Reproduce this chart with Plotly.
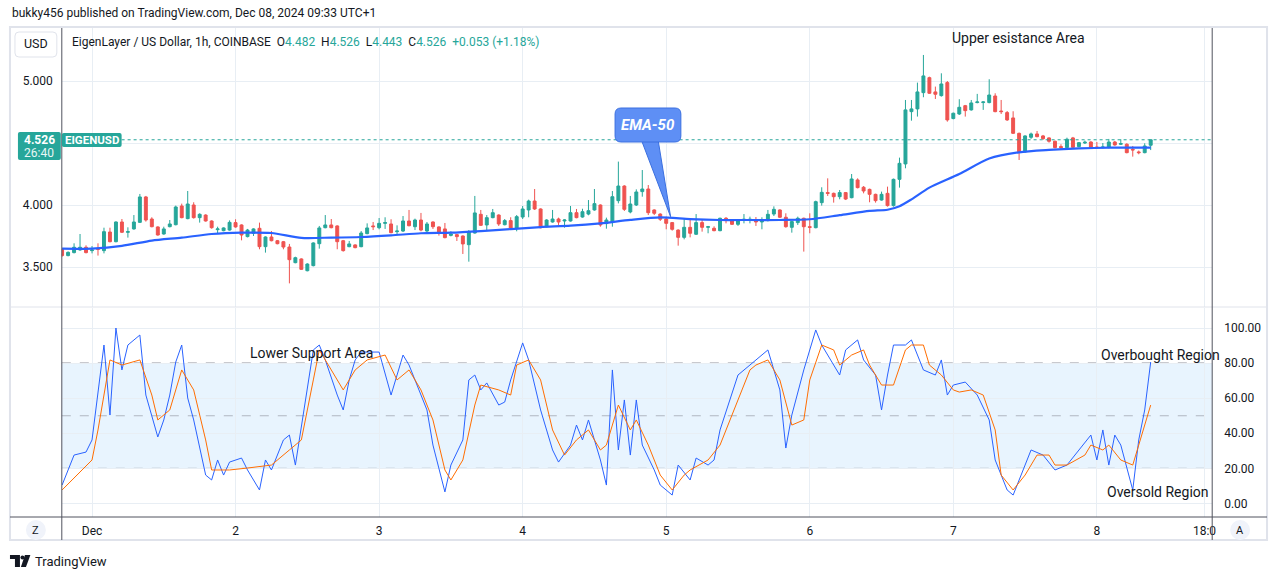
import plotly.graph_objects as go
import pandas as pd

W, H = 1281, 579

# ---------------- data ----------------
bar_start = "2024-11-30 19:00"

opens = [3.643,3.592,3.616,3.637,3.659,3.632,3.648,3.632,3.782,3.704,
3.863,3.780,3.807,3.860,4.065,3.887,3.823,3.766,3.825,3.841,
3.992,3.890,4.000,3.898,3.919,3.871,3.801,3.793,3.798,3.858,
3.839,3.745,3.772,3.812,3.664,3.742,3.712,3.704,3.661,3.535,
3.565,3.470,3.511,3.688,3.817,3.839,3.831,3.712,3.664,3.678,
3.664,3.769,3.831,3.817,3.852,3.847,3.785,3.790,3.871,3.825,
3.879,3.790,3.863,3.823,3.807,3.755,3.761,3.750,3.680,3.774,
3.925,3.839,3.898,3.919,3.841,3.874,3.815,3.903,3.960,4.032,
3.968,3.825,3.863,3.887,3.871,3.871,3.938,3.903,3.927,3.960,
4.000,3.850,3.860,4.035,4.153,3.944,4.000,4.108,4.129,3.960,
3.927,3.887,3.858,3.798,3.739,3.820,3.764,3.858,3.820,3.812,
3.793,3.893,3.879,3.844,3.876,3.876,3.879,3.863,3.874,3.927,
3.960,3.901,3.820,3.858,3.893,3.825,3.817,4.019,4.100,4.094,
4.067,4.100,4.059,4.202,4.143,4.126,4.086,4.040,4.094,3.995,
4.207,4.331,4.753,4.775,4.906,5.027,4.912,4.882,4.987,4.697,
4.734,4.801,4.767,4.826,4.826,4.826,4.879,4.758,4.745,4.702,
4.578,4.428,4.546,4.573,4.557,4.541,4.514,4.471,4.463,4.541,
4.471,4.500,4.508,4.468,4.463,4.463,4.508,4.490,4.490,4.449,
4.428,4.422,4.482]

highs = [3.651,3.626,3.691,3.766,3.675,3.669,3.691,3.817,3.817,3.868,
3.887,3.820,3.919,4.089,4.073,3.901,3.828,3.825,3.879,3.995,
4.011,4.113,4.022,3.933,3.925,3.876,3.825,3.820,3.876,3.885,
3.844,3.807,3.812,3.858,3.747,3.790,3.718,3.710,3.686,3.583,
3.570,3.530,3.699,3.831,3.919,3.887,3.836,3.718,3.710,3.683,
3.790,3.852,3.863,3.895,3.901,3.885,3.836,3.911,3.960,3.890,
3.936,3.863,3.868,3.828,3.855,3.788,3.766,3.755,3.798,4.073,
3.960,3.919,3.968,3.925,3.887,3.901,3.919,3.992,4.043,4.129,
3.973,3.885,3.960,3.898,3.885,3.992,3.968,3.970,4.040,4.129,
4.005,3.898,4.113,4.350,4.159,4.073,4.126,4.282,4.161,3.965,
3.933,3.906,3.863,3.804,3.887,3.893,3.927,3.879,3.831,3.828,
3.898,3.903,3.885,3.882,3.927,3.906,3.903,3.901,3.960,3.989,
3.965,3.933,3.871,3.906,3.898,3.933,4.035,4.143,4.215,4.100,
4.121,4.105,4.250,4.215,4.153,4.132,4.091,4.108,4.148,4.213,
4.382,4.847,4.847,4.987,5.210,5.035,4.955,5.062,5.000,4.745,
4.853,4.807,4.847,4.896,4.836,5.014,4.901,4.847,4.758,4.756,
4.584,4.562,4.584,4.597,4.565,4.546,4.519,4.490,4.543,4.549,
4.508,4.519,4.514,4.508,4.500,4.533,4.516,4.530,4.498,4.476,
4.439,4.498,4.526]

lows = [3.583,3.586,3.610,3.632,3.610,3.610,3.592,3.610,3.699,3.699,
3.774,3.737,3.801,3.855,3.866,3.820,3.753,3.761,3.820,3.836,
3.893,3.885,3.890,3.858,3.866,3.809,3.766,3.788,3.793,3.817,
3.715,3.739,3.750,3.643,3.616,3.707,3.683,3.643,3.368,3.530,
3.476,3.465,3.505,3.648,3.812,3.812,3.643,3.624,3.659,3.651,
3.659,3.764,3.798,3.804,3.807,3.772,3.766,3.782,3.828,3.798,
3.788,3.772,3.807,3.753,3.731,3.747,3.710,3.605,3.543,3.769,
3.831,3.790,3.893,3.831,3.836,3.809,3.788,3.887,3.901,3.960,
3.812,3.820,3.858,3.839,3.817,3.866,3.893,3.898,3.917,3.954,
3.825,3.809,3.825,4.013,3.952,3.933,3.992,4.067,3.919,3.919,
3.871,3.804,3.793,3.672,3.723,3.739,3.758,3.785,3.772,3.788,
3.788,3.852,3.839,3.831,3.852,3.852,3.831,3.804,3.868,3.911,
3.895,3.817,3.777,3.839,3.624,3.772,3.812,3.995,4.073,4.019,
4.046,4.040,4.054,4.134,4.094,4.022,4.019,4.035,3.987,3.987,
4.140,4.296,4.680,4.713,4.869,4.896,4.855,4.874,4.672,4.691,
4.726,4.713,4.761,4.820,4.767,4.820,4.748,4.734,4.678,4.573,
4.363,4.422,4.533,4.546,4.525,4.503,4.457,4.449,4.457,4.460,
4.465,4.492,4.457,4.457,4.457,4.457,4.479,4.484,4.417,4.390,
4.409,4.417,4.443]

closes = [3.592,3.618,3.659,3.659,3.616,3.637,3.643,3.785,3.704,3.863,
3.780,3.785,3.863,4.065,3.879,3.825,3.758,3.807,3.847,3.984,
3.898,4.008,3.898,3.925,3.871,3.817,3.807,3.815,3.860,3.823,
3.758,3.798,3.807,3.664,3.742,3.712,3.688,3.661,3.559,3.575,
3.481,3.524,3.694,3.815,3.839,3.817,3.704,3.632,3.686,3.656,
3.774,3.815,3.825,3.852,3.858,3.777,3.790,3.871,3.833,3.879,
3.798,3.847,3.825,3.772,3.737,3.766,3.745,3.686,3.785,3.936,
3.836,3.898,3.938,3.847,3.874,3.815,3.906,3.968,4.032,3.968,
3.817,3.879,3.887,3.863,3.879,3.938,3.898,3.946,3.954,4.011,
3.839,3.879,4.067,4.153,3.965,4.008,4.105,4.129,3.938,3.933,
3.885,3.852,3.804,3.739,3.820,3.772,3.858,3.820,3.825,3.793,
3.893,3.874,3.844,3.876,3.885,3.885,3.863,3.876,3.925,3.965,
3.901,3.825,3.866,3.893,3.825,3.820,4.027,4.102,4.094,4.067,
4.100,4.048,4.210,4.140,4.113,4.086,4.035,4.086,3.995,4.207,
4.336,4.767,4.775,4.912,5.041,4.901,4.893,4.976,4.686,4.740,
4.788,4.761,4.823,4.831,4.831,4.887,4.753,4.753,4.686,4.578,
4.428,4.557,4.573,4.551,4.535,4.514,4.463,4.463,4.530,4.465,
4.503,4.506,4.463,4.463,4.468,4.508,4.484,4.495,4.422,4.444,
4.422,4.476,4.526]

# EMA-50 read at sampled bars (1-based bar number)
ema_bars = [1,6,11,16,21,26,31,36,41,46,51,56,61,66,71,76,81,86,91,96,
            101,106,111,116,121,126,131,136,139,141,143,146,151,156,161,166,171,176,183]
ema_vals = [3.648,3.648,3.670,3.713,3.737,3.766,3.777,3.774,3.735,3.737,
            3.742,3.755,3.772,3.777,3.790,3.806,3.822,3.833,3.852,3.880,
            3.900,3.886,3.879,3.879,3.879,3.885,3.918,3.952,3.962,3.990,
            4.045,4.140,4.250,4.375,4.425,4.444,4.456,4.462,4.463]

# Stochastic RSI %K and %D (bar number, value)
k_bars = [1,3,5,6,8,9,10,11,12,14,15,17,18,19,20,21,22,23,25,26,27,28,29,31,32,34,35,36,38,39,40,
          43,44,45,47,48,49,50,51,54,56,58,59,61,62,63,65,66,68,69,70,71,72,74,75,76,78,79,81,83,84,
          86,87,88,89,91,92,93,94,95,96,97,98,100,101,103,104,106,107,109,110,111,114,116,117,119,
          121,122,123,125,127,128,130,131,132,134,135,137,138,139,140,142,143,145,147,148,149,150,
          152,154,156,157,159,160,162,163,165,167,169,171,173,174,175,176,177,178,180,181,182,183]
k_vals = [10.5,27.6,29.3,36.2,90.3,50.4,100,76.1,90.3,96,61.8,37.9,47.6,61.8,80.6,90.3,60.1,47.6,16.2,13.4,
          24.8,16.2,23.6,25.9,19.1,7.7,24.8,19.1,36.2,39,21.9,
          87.5,90.3,81.8,61.8,53.3,70.4,81.8,86.3,86.3,61.8,84.6,78.9,61.8,53.3,33.3,6.6,21.9,36.2,70.4,
          73.2,64.7,68.7,56.1,57.8,70.4,91.5,81.8,53.3,30.5,23.6,
          33.3,44.7,36.2,47.6,24.8,10.5,76.1,30.5,59,27.6,59,33.3,19.1,10.5,4.8,21.9,13.4,25.9,21.9,24.8,
          41.9,73.2,78.9,81.8,87.5,
          64.7,31.6,50.4,76.1,98.9,90.3,78.9,73.2,87.5,93.2,81.8,73.2,53.3,73.2,90.3,90.3,93.2,76.1,73.2,
          81.8,61.8,67.5,
          69.2,61.8,47.6,24.8,7.7,4.8,21.9,30.5,27.6,19.1,21.9,30.5,39,24.8,41.9,21.9,39,33.3,7.7,36.2,53.3,80.6]
d_bars = [1,6,7,9,11,14,16,17,19,21,23,25,26,29,32,36,39,41,43,44,46,48,50,52,55,57,59,61,63,65,66,68,
          70,71,74,76,77,79,81,83,85,87,89,91,92,94,96,97,99,101,103,105,106,109,111,114,116,117,119,
          121,123,125,126,128,130,131,133,135,136,138,140,142,143,145,146,148,150,151,153,155,157,158,
          160,162,164,166,167,169,172,173,175,176,178,180,181,183]
d_vals = [7.7,24.8,41.9,81.8,78.9,81.8,61.8,47.6,53.3,76.1,64.7,36.2,19.1,19.1,20.2,21.9,30.5,36.2,70.4,
          87.5,76.1,64.7,76.1,81.8,84.6,70.4,76.1,64.7,47.6,19.1,13.4,24.8,
          56.1,67.5,64.7,61.8,78.9,81.8,70.4,41.9,27.6,36.2,41.9,30.5,33.3,56.1,41.9,47.6,33.3,16.2,7.7,
          16.2,19.1,24.8,33.3,59,76.1,78.9,81.8,
          70.4,44.7,47.6,70.4,90.3,87.5,78.9,84.6,87.5,78.9,67.5,67.5,87.5,90.3,90.3,78.9,73.2,64.7,63.5,
          64.7,61.8,41.9,16.2,
          7.7,16.2,27.6,27.6,21.9,21.9,27.6,33.3,30.5,33.3,24.8,21.9,33.3,56.1]

day_ticks = ["2024-12-01", "2024-12-02", "2024-12-03", "2024-12-04", "2024-12-05",
             "2024-12-06", "2024-12-07", "2024-12-08", "2024-12-08 18:00"]
day_labels = ["Dec", "2", "3", "4", "5", "6", "7", "8", "18:0"]
price_ticks = [3.5, 4.0, 4.5, 5.0]
price_labels = ["3.500", "4.000", "", "5.000"]
stoch_ticks = [0, 20, 40, 60, 80, 100]
stoch_labels = ["0.00", "20.00", "40.00", "60.00", "80.00", "100.00"]
last_price = 4.526

# ---------------- helpers ----------------
times = pd.date_range(bar_start, periods=len(opens), freq="h")
def tb(bars):
    return [times[b - 1] for b in bars]

def px(x):
    return x / W

def py(y):
    return 1 - y / H

def rrect(x0, y0, x1, y1, r):
    return (f"M {px(x0+r)},{py(y0)} L {px(x1-r)},{py(y0)} Q {px(x1)},{py(y0)} {px(x1)},{py(y0+r)} "
            f"L {px(x1)},{py(y1-r)} Q {px(x1)},{py(y1)} {px(x1-r)},{py(y1)} "
            f"L {px(x0+r)},{py(y1)} Q {px(x0)},{py(y1)} {px(x0)},{py(y1-r)} "
            f"L {px(x0)},{py(y0+r)} Q {px(x0)},{py(y0)} {px(x0+r)},{py(y0)} Z")

FONT = "Roboto"
TXT = "#131722"
GRID = "#e8eef4"
TEAL = "#26a69a"
RED = "#ef5350"

fig = go.Figure()

fig.add_trace(go.Candlestick(
    x=times, open=opens, high=highs, low=lows, close=closes,
    increasing=dict(line=dict(color=TEAL, width=1), fillcolor=TEAL),
    decreasing=dict(line=dict(color=RED, width=1), fillcolor=RED),
    whiskerwidth=0, showlegend=False, hoverinfo="skip", xaxis="x", yaxis="y"))

fig.add_trace(go.Scatter(
    x=tb(ema_bars), y=ema_vals, mode="lines",
    line=dict(color="#2962ff", width=2.2, shape="spline", smoothing=0.7),
    showlegend=False, hoverinfo="skip", xaxis="x", yaxis="y"))

fig.add_trace(go.Scatter(
    x=tb(k_bars), y=k_vals, mode="lines", line=dict(color="#2962ff", width=1),
    showlegend=False, hoverinfo="skip", xaxis="x2", yaxis="y2"))
fig.add_trace(go.Scatter(
    x=tb(d_bars), y=d_vals, mode="lines", line=dict(color="#ff6d00", width=1),
    showlegend=False, hoverinfo="skip", xaxis="x2", yaxis="y2"))

x_range = ["2024-11-30 18:57", "2024-12-08 19:17"]
xdom = [px(62), px(1216)]

shapes = []
# stoch band + levels
shapes.append(dict(type="rect", xref="x2 domain", yref="y2", x0=0, x1=1, y0=20, y1=80,
                   fillcolor="rgba(33,150,243,0.10)", line=dict(width=0), layer="below"))
for lv, col in [(80, "#787b86"), (50, "rgba(120,123,134,0.5)"), (20, "#787b86")]:
    shapes.append(dict(type="line", xref="x2 domain", yref="y2", x0=0, x1=1, y0=lv, y1=lv,
                       line=dict(color=col, width=1, dash="dash"), layer="below"))
# last price dotted line
shapes.append(dict(type="line", xref="paper", yref="y", x0=px(122), x1=px(1216),
                   y0=last_price, y1=last_price, line=dict(color=TEAL, width=1, dash="dot")))
# frame
shapes.append(dict(type="rect", xref="paper", yref="paper", x0=px(10), x1=px(1271), y0=py(540), y1=py(27),
                   line=dict(color="#e0e3eb", width=2), fillcolor="rgba(0,0,0,0)"))
shapes.append(dict(type="line", xref="paper", yref="paper", x0=px(10), x1=px(1271), y0=py(307), y1=py(307),
                   line=dict(color="#e0e3eb", width=1)))
shapes.append(dict(type="line", xref="paper", yref="paper", x0=px(10), x1=px(1271), y0=py(517), y1=py(517),
                   line=dict(color="#50535e", width=1)))
for xv in (62, 1216):
    shapes.append(dict(type="line", xref="paper", yref="paper", x0=px(xv), x1=px(xv), y0=py(540), y1=py(28),
                       line=dict(color="#50535e", width=1)))
# USD box
shapes.append(dict(type="path", xref="paper", yref="paper", path=rrect(15, 32, 57, 57, 4),
                   line=dict(color="#e0e3eb", width=1), fillcolor="white"))
# price tag
shapes.append(dict(type="path", xref="paper", yref="paper", path=rrect(18, 132, 61, 160, 2),
                   line=dict(width=0), fillcolor=TEAL))
shapes.append(dict(type="path", xref="paper", yref="paper", path=rrect(62, 133, 122, 147, 2),
                   line=dict(width=0), fillcolor=TEAL))
# EMA-50 callout
shapes.append(dict(type="path", xref="paper", yref="paper",
                   path=f"M {px(643)},{py(139)} L {px(660)},{py(139)} L {px(672.7)},{py(216.7)} Z",
                   line=dict(color="#3a6fe0", width=1), fillcolor="#5e8ff5"))
shapes.append(dict(type="path", xref="paper", yref="paper", path=rrect(617, 108, 683, 142, 6),
                   line=dict(color="#3a6fe0", width=1), fillcolor="#5e8ff5"))
# Z / A buttons
for cx in (36, 1244):
    shapes.append(dict(type="circle", xref="paper", yref="paper", x0=px(cx-10), x1=px(cx+10),
                       y0=py(540), y1=py(520), line=dict(width=0), fillcolor="#f0f3fa"))
# TradingView logo glyph
shapes.append(dict(type="path", xref="paper", yref="paper",
                   path=f"M {px(10)},{py(555)} L {px(20)},{py(555)} L {px(20)},{py(567)} L {px(15)},{py(567)} L {px(15)},{py(559)} L {px(10)},{py(559)} Z",
                   line=dict(width=0), fillcolor=TXT))
shapes.append(dict(type="circle", xref="paper", yref="paper", x0=px(20.5), x1=px(24.5), y0=py(559.5), y1=py(555.5),
                   line=dict(width=0), fillcolor=TXT))
shapes.append(dict(type="path", xref="paper", yref="paper",
                   path=f"M {px(25)},{py(555)} L {px(30.5)},{py(555)} L {px(26)},{py(567)} L {px(21)},{py(567)} Z",
                   line=dict(width=0), fillcolor=TXT))

ann = []
def text(x, y, s, size=13, color=TXT, xanchor="left", bold=False, italic=False, fam=FONT):
    if bold:
        s = f"<b>{s}</b>"
    if italic:
        s = f"<i>{s}</i>"
    ann.append(dict(xref="paper", yref="paper", x=px(x), y=py(y), text=s, showarrow=False,
                    xanchor=xanchor, yanchor="middle", font=dict(family=fam, size=size, color=color)))

text(10, 13, "bukky456 published on TradingView.com, Dec 08, 2024 09:33 UTC+1", size=12)
G = TEAL
legend = (f"EigenLayer / US Dollar, 1h, COINBASE&nbsp;&nbsp;O<span style='color:{G}'>4.482</span>"
          f"&nbsp;&nbsp;H<span style='color:{G}'>4.526</span>&nbsp;&nbsp;L<span style='color:{G}'>4.443</span>"
          f"&nbsp;&nbsp;C<span style='color:{G}'>4.526</span>&nbsp;&nbsp;<span style='color:{G}'>+0.053 (+1.18%)</span>")
text(70, 42, legend, size=12)
text(36, 44, "USD", size=12.5, xanchor="center")
text(39.5, 140, "4.526", size=12, color="white", xanchor="center", bold=True)
text(39.5, 153, "26:40", size=12, color="#e8f6f4", xanchor="center")
text(92, 140, "EIGENUSD", size=11.5, color="white", xanchor="center", bold=True)
text(650, 125, "EMA-50", size=15, color="white", xanchor="center", bold=True, italic=True)
text(1022, 38, "Upper esistance Area", size=14, xanchor="center")
text(312, 353, "Lower Support Area", size=14, xanchor="center")
text(1164, 355, "Overbought Region", size=14, xanchor="center")
text(1162, 492, "Oversold Region", size=14, xanchor="center")
text(36, 530, "Z", size=11, xanchor="center")
text(1244, 530, "A", size=11, xanchor="center")
text(33, 561, "TradingView", size=13)

fig.update_layout(
    width=W, height=H, margin=dict(l=0, r=0, t=0, b=0),
    paper_bgcolor="white", plot_bgcolor="white", showlegend=False,
    font=dict(family=FONT, color=TXT),
    xaxis=dict(domain=xdom, anchor="y", type="date", range=x_range, tickvals=day_ticks,
               ticktext=[""] * len(day_ticks), showgrid=True, gridcolor=GRID, gridwidth=1,
               zeroline=False, showline=False, ticks="", rangeslider=dict(visible=False)),
    xaxis2=dict(domain=xdom, anchor="y2", type="date", range=x_range, tickvals=day_ticks,
                ticktext=day_labels, showgrid=True, gridcolor=GRID, gridwidth=1,
                zeroline=False, showline=False, ticks="", tickfont=dict(size=12, color=TXT),
                ticklabelstandoff=5),
    yaxis=dict(domain=[py(307), py(28)], anchor="x", side="left", range=[3.1774, 5.4274],
               tickvals=price_ticks, ticktext=price_labels, showgrid=True, gridcolor=GRID,
               zeroline=False, showline=False, ticks="", tickfont=dict(size=12, color=TXT),
               ticklabelstandoff=8),
    yaxis2=dict(domain=[py(517), py(308)], anchor="x2", side="right", range=[-7.7, 111.4],
                tickvals=stoch_ticks, ticktext=stoch_labels, showgrid=True, gridcolor=GRID,
                zeroline=False, showline=False, ticks="", tickfont=dict(size=12, color=TXT),
                ticklabelstandoff=11),
    shapes=shapes, annotations=ann,
)

fig.write_html("out.html", config={"displayModeBar": False},
               post_script="document.body.style.margin='0';document.body.style.overflow='hidden';")
